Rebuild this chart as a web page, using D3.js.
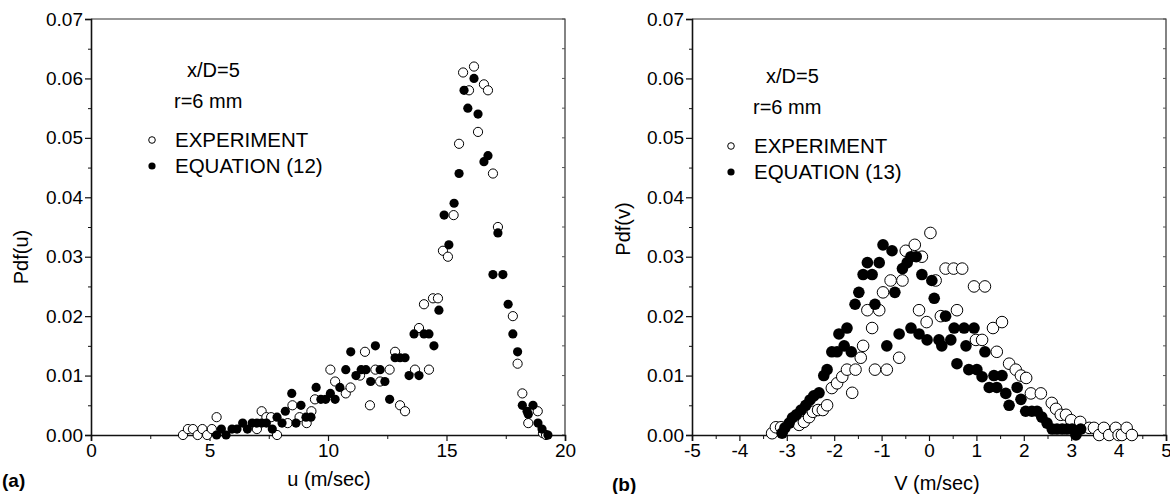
<!DOCTYPE html>
<html>
<head>
<meta charset="utf-8">
<script src="https://cdn.jsdelivr.net/npm/d3@7"></script>
<style>
  body { margin: 0; background: #fff; }
  svg { display: block; font-family: "Liberation Sans", Arial, sans-serif; }
</style>
</head>
<body>
<svg id="chart" width="1170" height="494"></svg>
<script>
// panel (a): u velocity pdf
const uExp = [3.88, 4.09, 4.3, 4.5, 4.7, 4.9, 5.1, 5.3, 7.0, 7.2, 7.4, 7.6, 7.85, 8.3, 8.5, 8.8, 9.1, 9.3, 9.45,
  10.1, 10.3, 10.75, 10.95, 11.35, 11.56, 11.77, 12.0, 12.2, 12.6, 12.83, 13.04, 13.25, 13.67, 13.84, 14.05, 14.26,
  14.43, 14.64, 14.85, 15.06, 15.3, 15.53, 15.7, 15.95, 16.16, 16.33, 16.58, 16.75, 16.96, 17.17, 17.8, 18.0, 18.2,
  18.45, 18.85, 19.07, 19.2];
const pdfUExp = [0, 0.001, 0.001, 0, 0.001, 0, 0.001, 0.003, 0.001, 0.004, 0.003, 0.003, 0, 0.002, 0.005, 0.003, 0.002,
  0.004, 0.006, 0.011, 0.009, 0.007, 0.008, 0.010, 0.014, 0.005, 0.011, 0.009, 0.011, 0.014, 0.005, 0.004, 0.011, 0.018,
  0.022, 0.011, 0.023, 0.023, 0.031, 0.030, 0.037, 0.049, 0.061, 0.058, 0.062, 0.051, 0.059, 0.058, 0.044, 0.035, 0.020,
  0.012, 0.007, 0.002, 0.004, 0.0003, 0];
const uEq = [5.3, 5.5, 5.7, 5.95, 6.16, 6.4, 6.6, 6.8, 7.0, 7.2, 7.4, 7.65, 7.85, 8.06, 8.2, 8.47, 8.65, 8.86, 9.07, 9.28,
  9.5, 9.7, 9.9, 10.1, 10.3, 10.5, 10.75, 10.96, 11.18, 11.4, 11.6, 11.8, 12.0, 12.2, 12.4, 12.6, 12.83, 13.04, 13.25,
  13.42, 13.63, 13.84, 14.05, 14.26, 14.47, 14.68, 14.9, 15.1, 15.32, 15.53, 15.74, 15.9, 16.16, 16.33, 16.58, 16.75,
  16.96, 17.17, 17.38, 17.6, 17.8, 18.0, 18.2, 18.4, 18.45, 18.65, 18.86, 19.03, 19.28];
const pdfUEq = [0, 0.001, 0, 0.001, 0.001, 0.002, 0.001, 0.002, 0.002, 0.002, 0.002, 0.001, 0.003, 0.002, 0.004, 0.007,
  0.002, 0.005, 0.003, 0.003, 0.008, 0.006, 0.006, 0.007, 0.006, 0.008, 0.011, 0.014, 0.010, 0.011, 0.011, 0.009, 0.015,
  0.011, 0.009, 0.006, 0.013, 0.013, 0.013, 0.010, 0.017, 0.010, 0.017, 0.017, 0.015, 0.021, 0.037, 0.032, 0.039, 0.044,
  0.058, 0.055, 0.060, 0.054, 0.046, 0.047, 0.027, 0.034, 0.027, 0.022, 0.017, 0.014, 0.005, 0.004, 0.0035, 0.005, 0.002,
  0.001, 0];

// panel (b): v velocity pdf
const vExp = [-3.31, -3.23, -3.12, -2.74, -2.64, -2.53, -2.45, -2.34, -2.24, -2.15, -2.05, -1.94, -1.83, -1.73, -1.62,
  -1.55, -1.44, -1.39, -1.3, -1.2, -1.14, -1.05, -0.97, -0.89, -0.81, -0.63, -0.56, -0.49, -0.3, -0.21, -0.15, -0.05,
  0.03, 0.14, 0.25, 0.35, 0.52, 0.59, 0.7, 0.95, 0.99, 1.12, 1.18, 1.35, 1.43, 1.54, 1.69, 1.83, 1.94, 2.05, 2.15, 2.36,
  2.59, 2.68, 2.78, 2.89, 3.0, 3.19, 3.38, 3.48, 3.59, 3.69, 3.8, 3.94, 4.0, 4.07, 4.17, 4.28];
const pdfVExp = [0.0003, 0.0013, 0.0013, 0.0017, 0.0022, 0.003, 0.0039, 0.0042, 0.0042, 0.005, 0.0079, 0.0087, 0.0098,
  0.011, 0.0071, 0.011, 0.013, 0.015, 0.021, 0.018, 0.011, 0.021, 0.024, 0.011, 0.026, 0.013, 0.026, 0.031, 0.032, 0.021,
  0.030, 0.019, 0.034, 0.026, 0.020, 0.028, 0.028, 0.021, 0.028, 0.025, 0.016, 0.016, 0.025, 0.018, 0.014, 0.019, 0.012,
  0.011, 0.010, 0.0096, 0.007, 0.007, 0.0054, 0.0044, 0.0034, 0.0034, 0.0025, 0.0022, 0.0012, 0.0012, 0, 0.0012, 0,
  0.0012, 0, 0, 0.0012, 0];
const vEq = [-3.1, -3.04, -2.95, -2.88, -2.8, -2.7, -2.6, -2.51, -2.43, -2.32, -2.22, -2.15, -2.05, -1.94, -1.9, -1.79,
  -1.73, -1.64, -1.56, -1.48, -1.39, -1.3, -1.2, -1.14, -1.05, -0.97, -0.89, -0.78, -0.72, -0.63, -0.56, -0.46, -0.38,
  -0.38, -0.27, -0.21, -0.15, -0.04, 0.06, 0.11, 0.21, 0.27, 0.35, 0.46, 0.53, 0.59, 0.74, 0.78, 0.84, 0.95, 1.01, 1.12,
  1.18, 1.27, 1.37, 1.43, 1.54, 1.62, 1.69, 1.86, 1.94, 2.04, 2.17, 2.28, 2.38, 2.49, 2.6, 2.7, 2.81, 2.91, 3.02, 3.1, 3.2];
const pdfVEq = [0.0003, 0.0012, 0.002, 0.0029, 0.0034, 0.0042, 0.005, 0.0059, 0.0066, 0.0071, 0.010, 0.011, 0.014,
  0.014, 0.017, 0.015, 0.018, 0.014, 0.022, 0.024, 0.027, 0.029, 0.027, 0.022, 0.029, 0.032, 0.015, 0.031, 0.024, 0.017,
  0.028, 0.029, 0.030, 0.018, 0.030, 0.017, 0.027, 0.016, 0.026, 0.023, 0.016, 0.015, 0.020, 0.016, 0.018, 0.012, 0.018,
  0.015, 0.011, 0.018, 0.011, 0.0098, 0.014, 0.008, 0.010, 0.008, 0.010, 0.007, 0.005, 0.008, 0.006, 0.004, 0.004, 0.004,
  0.003, 0.002, 0.001, 0.001, 0.001, 0.001, 0.001, 0, 0.001];

const yTicks = [0, 0.01, 0.02, 0.03, 0.04, 0.05, 0.06, 0.07];
const uTicks = [0, 5, 10, 15, 20];
const vTicks = [-5, -4, -3, -2, -1, 0, 1, 2, 3, 4, 5];
const legendLabels = ["x/D=5", "r=6 mm", "EXPERIMENT"];

const svg = d3.select("#chart");

function drawPanel(opt) {
  const { left, right, top, bottom } = opt.box;
  const x = d3.scaleLinear().domain(opt.xDomain).range([left, right]);
  const y = d3.scaleLinear().domain([0, 0.07]).range([bottom, top]);
  const g = svg.append("g");

  // frame: top and right
  g.append("path")
    .attr("d", `M${left},${top}H${right}V${bottom}`)
    .attr("fill", "none").attr("stroke", "#333").attr("stroke-width", 1.2);

  // right side inner ticks
  const minorY = d3.range(0, 0.0701, 0.005);
  g.selectAll(".rt").data(minorY).enter().append("line")
    .attr("x1", right).attr("x2", right - 3)
    .attr("y1", d => y(d)).attr("y2", d => y(d))
    .attr("stroke", "#555").attr("stroke-width", 1);

  // y axis
  const yAxis = g.append("g").attr("transform", `translate(${left},0)`)
    .call(d3.axisLeft(y).tickValues(yTicks).tickFormat(d3.format(".2f")).tickSize(6).tickPadding(2));
  g.append("g").attr("transform", `translate(${left},0)`)
    .call(d3.axisLeft(y).tickValues(minorY.filter((d, i) => i % 2)).tickFormat("").tickSize(3))
    .select(".domain").remove();

  // x axis (plain hyphen for negatives, like the original)
  const xAxis = g.append("g").attr("transform", `translate(0,${bottom})`)
    .call(d3.axisBottom(x).tickValues(opt.xTicks).tickFormat(d => String(d)).tickSize(6).tickPadding(3));
  g.append("g").attr("transform", `translate(0,${bottom})`)
    .call(d3.axisBottom(x).tickValues(opt.xMinor).tickFormat("").tickSize(4))
    .select(".domain").remove();

  [yAxis, xAxis].forEach(a => {
    a.select(".domain").attr("stroke", "#111").attr("stroke-width", 1.6);
    a.selectAll(".tick line").attr("stroke", "#111").attr("stroke-width", 1.2);
    a.selectAll(".tick text").attr("fill", "#000").style("font-size", "19px")
      .style("font-family", "'Liberation Sans', Arial, sans-serif");
  });
  g.selectAll(".tick line").attr("stroke", "#111");

  // markers
  const pts = (xs, ys) => xs.map((d, i) => [d, ys[i]]);
  g.selectAll(".exp").data(pts(opt.xExp, opt.yExp)).enter().append("circle")
    .attr("cx", d => x(d[0])).attr("cy", d => y(d[1])).attr("r", opt.r)
    .attr("fill", "#fff").attr("stroke", "#000").attr("stroke-width", 1);
  g.selectAll(".eq").data(pts(opt.xEq, opt.yEq)).enter().append("circle")
    .attr("cx", d => x(d[0])).attr("cy", d => y(d[1])).attr("r", opt.r)
    .attr("fill", "#000");

  // axis titles
  g.append("text").attr("x", opt.xTitlePos[0]).attr("y", opt.xTitlePos[1])
    .attr("text-anchor", "middle").style("font-size", "20px").text(opt.xTitle);
  g.append("text").attr("transform", `translate(${opt.yTitlePos[0]},${opt.yTitlePos[1]}) rotate(-90)`)
    .attr("text-anchor", "middle").style("font-size", "20px").text(opt.yTitle);
  g.append("text").attr("x", opt.tagPos[0]).attr("y", opt.tagPos[1])
    .style("font-size", "19px").style("font-weight", "bold").text(opt.tag);

  // legend block
  const L = opt.legend;
  g.append("text").attr("x", L.x + 35).attr("y", L.y).style("font-size", "20px").text(legendLabels[0]);
  g.append("text").attr("x", L.x + 22).attr("y", L.y + 31).style("font-size", "20px").text(legendLabels[1]);
  g.append("circle").attr("cx", L.x).attr("cy", L.y + 63).attr("r", 3.3)
    .attr("fill", "#fff").attr("stroke", "#000").attr("stroke-width", 1);
  g.append("text").attr("x", L.x + 23).attr("y", L.y + 70).style("font-size", "20.5px").text(legendLabels[2]);
  g.append("circle").attr("cx", L.x).attr("cy", L.y + 89).attr("r", 3.6).attr("fill", "#000");
  g.append("text").attr("x", L.x + 23).attr("y", L.y + 96).style("font-size", "20.5px").text(L.eqLabel);
}

drawPanel({
  box: { left: 91, right: 565, top: 19, bottom: 435 },
  xDomain: [0, 20], xTicks: uTicks, xMinor: [2.5, 7.5, 12.5, 17.5],
  xExp: uExp, yExp: pdfUExp, xEq: uEq, yEq: pdfUEq, r: 4.6,
  xTitle: "u (m/sec)", xTitlePos: [329, 486],
  yTitle: "Pdf(u)", yTitlePos: [28, 257],
  tag: "(a)", tagPos: [2, 487],
  legend: { x: 152, y: 77, eqLabel: "EQUATION (12)" }
});

drawPanel({
  box: { left: 692, right: 1166, top: 19, bottom: 435 },
  xDomain: [-5, 5], xTicks: vTicks, xMinor: d3.range(-4.5, 5, 1),
  xExp: vExp, yExp: pdfVExp, xEq: vEq, yEq: pdfVEq, r: 5.8,
  xTitle: "V (m/sec)", xTitlePos: [937, 490],
  yTitle: "Pdf(v)", yTitlePos: [630, 229],
  tag: "(b)", tagPos: [612, 491],
  legend: { x: 731, y: 83, eqLabel: "EQUATION (13)" }
});
</script>
</body>
</html>
